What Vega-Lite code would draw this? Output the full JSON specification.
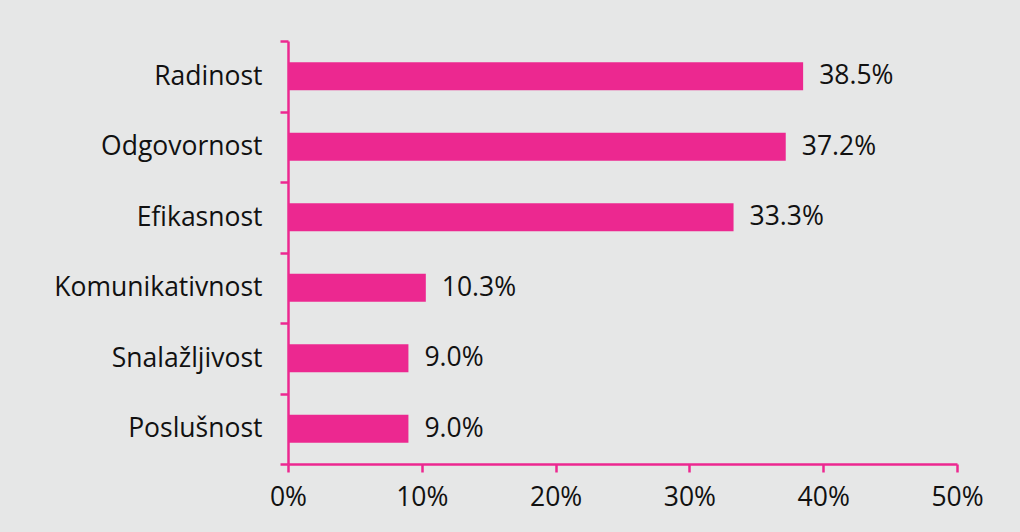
{
  "$schema": "https://vega.github.io/schema/vega-lite/v6.json",
  "autosize": {"type": "none"},
  "width": 669,
  "height": 423,
  "padding": {"left": 288, "top": 41, "right": 63, "bottom": 68},
  "background": "#e6e7e7",
  "config": {
    "view": {"stroke": null},
    "font": "Open Sans",
    "axis": {"labelFont": "Open Sans", "labelFontSize": 26.5, "labelColor": "#111111", "domainColor": "#ec2890", "tickColor": "#ec2890", "domainWidth": 2.5, "tickWidth": 2.5, "grid": false, "title": null}
  },
  "data": {
    "values": [
      {"kategorija": "Radinost", "vrijednost": 0.385},
      {"kategorija": "Odgovornost", "vrijednost": 0.372},
      {"kategorija": "Efikasnost", "vrijednost": 0.333},
      {"kategorija": "Komunikativnost", "vrijednost": 0.103},
      {"kategorija": "Snalažljivost", "vrijednost": 0.09},
      {"kategorija": "Poslušnost", "vrijednost": 0.09}
    ]
  },
  "encoding": {
    "y": {
      "field": "kategorija",
      "type": "nominal",
      "sort": null,
      "scale": {"paddingInner": 0, "paddingOuter": 0},
      "axis": {"tickBand": "extent", "tickSize": 8, "labelPadding": 18, "labelLimit": 400}
    },
    "x": {
      "field": "vrijednost",
      "type": "quantitative",
      "scale": {"domain": [0, 0.5], "nice": false},
      "axis": {"values": [0, 0.1, 0.2, 0.3, 0.4, 0.5], "format": ".0%", "tickSize": 8, "labelPadding": 12, "labelFlush": false}
    }
  },
  "layer": [
    {"mark": {"type": "bar", "color": "#ec2890", "height": {"band": 0.4}}},
    {
      "mark": {"type": "text", "align": "left", "baseline": "middle", "dx": 16, "fontSize": 26.5, "color": "#111111", "font": "Open Sans"},
      "encoding": {"text": {"field": "vrijednost", "type": "quantitative", "format": ".1%"}}
    }
  ]
}
